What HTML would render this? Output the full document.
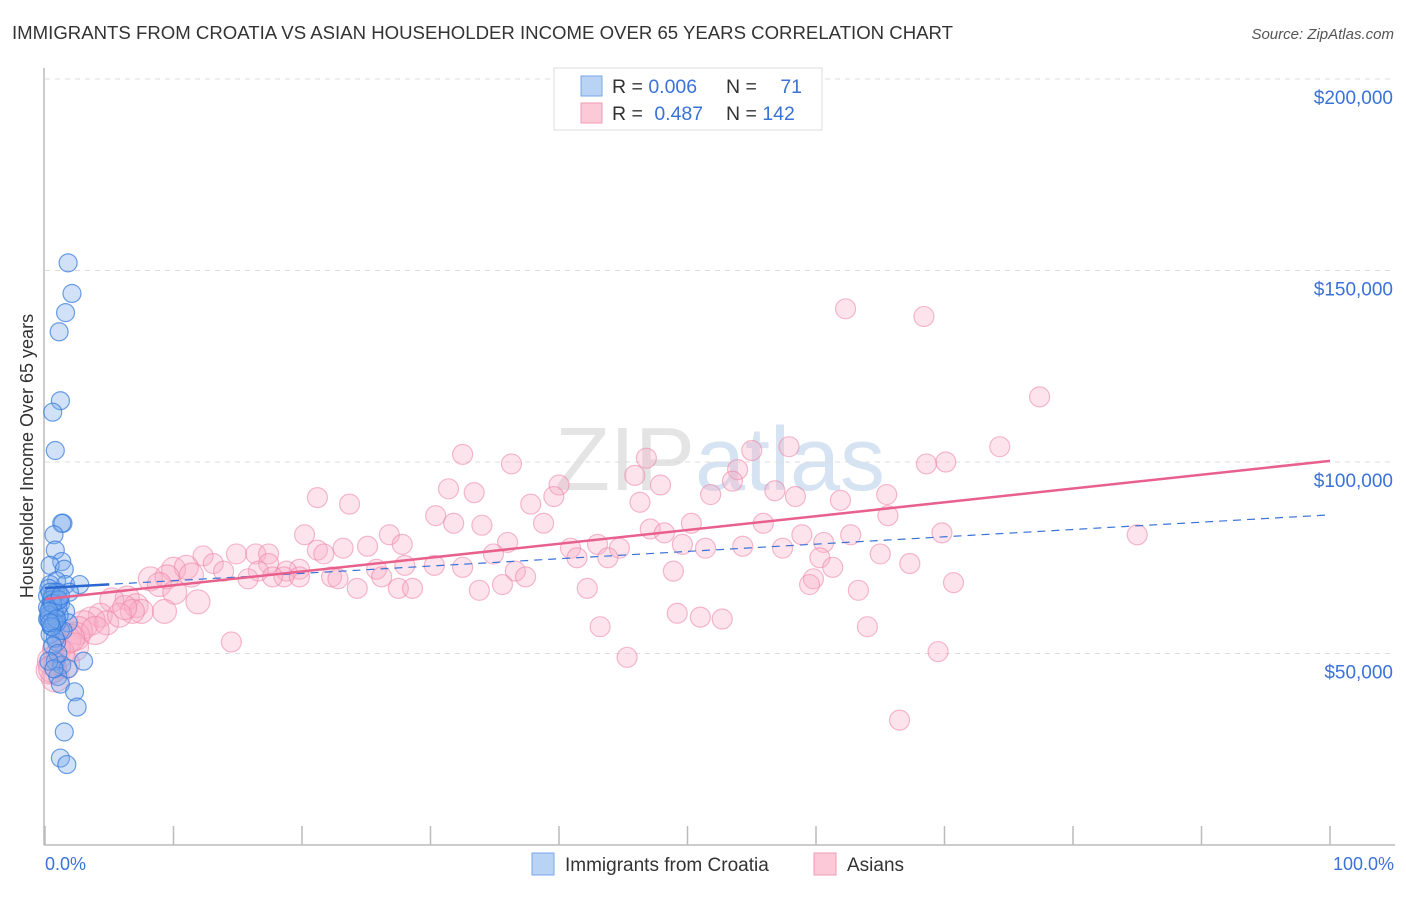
<!DOCTYPE html>
<html><head><meta charset="utf-8"><style>
body{margin:0;background:#fff;font-family:"Liberation Sans",sans-serif}
svg text{font-family:"Liberation Sans",sans-serif}
</style></head><body>
<svg id="c" width="1406" height="892" xmlns="http://www.w3.org/2000/svg">
<text x="12" y="39" font-size="18" fill="#333" textLength="941" lengthAdjust="spacingAndGlyphs">IMMIGRANTS FROM CROATIA VS ASIAN HOUSEHOLDER INCOME OVER 65 YEARS CORRELATION CHART</text>
<text x="1394" y="39" font-size="15" fill="#555" font-style="italic" text-anchor="end">Source: ZipAtlas.com</text>
<text x="720" y="490" font-size="90" fill="#e4e4e4" text-anchor="middle" font-family="Liberation Serif">ZIP<tspan fill="#d6e3f2" font-family="Liberation Sans">atlas</tspan></text>
<g id="grid"></g>
<line x1="44" y1="68" x2="44" y2="845" stroke="#bbb" stroke-width="1.5"/>
<line x1="44" y1="845" x2="1395" y2="845" stroke="#bbb" stroke-width="1.5"/>
<text transform="translate(33,456) rotate(-90)" font-size="18" fill="#333" text-anchor="middle">Householder Income Over 65 years</text>
<text x="45" y="870" font-size="18" fill="#3a72d8">0.0%</text>
<text x="1394" y="870" font-size="18" fill="#3a72d8" text-anchor="end">100.0%</text>
<g id="pts"></g>
<g id="lines"></g>
<g>
<rect x="554" y="68" width="268" height="62" fill="#fff" stroke="#ddd"/>
<rect x="581" y="76" width="21" height="20" fill="#b9d3f5" stroke="#7aa6e8"/>
<rect x="581" y="103" width="21" height="20" fill="#fcc9d8" stroke="#f09ab4"/>
<text x="612" y="93" font-size="19.5" fill="#333">R = <tspan fill="#3a72d8">0.006</tspan></text>
<text x="726" y="93" font-size="19.5" fill="#333">N = <tspan fill="#3a72d8" dx="18">71</tspan></text>
<text x="612" y="120" font-size="19.5" fill="#333">R = <tspan fill="#3a72d8" dx="6">0.487</tspan></text>
<text x="726" y="120" font-size="19.5" fill="#333">N = <tspan fill="#3a72d8">142</tspan></text>
</g>
<g>
<rect x="532" y="853" width="22" height="22" fill="#b9d3f5" stroke="#7aa6e8"/>
<text x="565" y="871" font-size="19" fill="#333">Immigrants from Croatia</text>
<rect x="814" y="853" width="22" height="22" fill="#fcc9d8" stroke="#f09ab4"/>
<text x="847" y="871" font-size="19" fill="#333">Asians</text>
</g>
</svg>
<script>
const yTicks=[50,100,150,200];
const yTickLabels=["$50,000","$100,000","$150,000","$200,000"];
const xTicks=[0,10,20,30,40,50,60,70,80,90,100];
const blueX=[1.8,2.1,1.6,1.1,1.2,0.6,0.8,1.4,1.3,0.7,0.8,1.3,0.4,1.5,0.9,1.6,2.7,0.4,1.0,1.9,0.2,1.2,0.4,1.6,0.8,0.2,1.8,0.5,1.2,0.4,0.9,3.0,0.8,1.3,1.8,1.0,1.2,2.3,2.5,1.5,1.2,1.7,0.3,0.6,1.0,0.5,0.7,1.1,0.3,0.9,0.6,1.4,0.2,0.8,0.5,1.0,0.3,0.7,0.4,1.1,0.6,0.3,0.9,0.5,1.2,0.4,0.8,0.6,1.0,0.3,0.7];
const blueY=[152,144,139,134,116,113,103,84,84,81,77,74,73,72,69,68,68,68,66,66,65,63,62,61,60,59,58,57,56,55,53,48,48,47,46,44,42,40,36,29.5,22.7,21,67,65,64,63,61,60,59,58,57,56,62,66,64,62,60,58,66,64,63,61,59,57,65,58,54,52,50,48,46];
const pinkX=[62.3,68.4,77.4,74.3,57.9,55,70.1,68.6,46.8,32.5,36.3,53.9,45.9,53.5,47.9,40,31.4,33.4,56.8,39.6,65.5,61.9,51.8,58.4,21.2,23.7,37.8,46.3,65.6,30.4,55.9,50.3,31.8,34,38.8,47.1,48.2,58.9,69.8,85,20.2,26.8,62.7,27.8,49.6,60.6,25.1,43,44.7,51.4,54.3,57.4,40.9,36,21.2,21.7,23.2,34.9,41.4,43.8,14.9,16.4,17.4,12.3,60.3,65,67.3,17.4,30.3,28,32.5,25.8,13.1,61.3,19.8,10,11,13.9,36.6,16.6,18.8,37.4,26.2,22.3,18.6,19.8,8.2,9.5,11.4,17.7,48.9,22.8,15.8,59.8,8.9,35.6,59.5,70.7,42.2,27.5,24.3,28.6,33.8,63.3,10.1,6.4,5.2,11.9,7.1,7.5,6.8,49.2,51,52.7,4.3,3.6,3,2.6,2.4,1.7,0.9,0.5,64,43.2,14.5,45.3,69.5,66.5,0.8,0.4,1.6,2.3,9.3,4.8,3.9,1.2,2,5.8,6.2,0.6];
const pinkY=[140,138,117,104,104,103,100,99.5,101,102,99.5,98,96.5,95,94,94,93,92,92.5,91,91.5,90,91.5,91,90.7,89,89,89.5,86,86,84,84,84,83.5,84,82.5,81.5,81,81.5,81,81,81,81,78.5,78.5,79,78,78.5,77.5,77.5,78,77.5,77.5,79,77,76,77.5,76,75,75,76,76,76,75.5,75,76,73.5,73.5,73,73,72.5,72,73.5,72.5,72,72,72.5,71.5,71.5,71.5,71.5,70,70,70,70,70,69.5,70,70.5,70,71.5,69.5,69.5,69.5,68,68,68,68.5,67,67,67,67,66.5,66.5,66,64.5,64,63.5,62.5,61,61,60.5,59.5,59,60,58.5,57.5,56,54.5,53.5,51,48,57,57,53,49,50.5,32.6,43.6,45.7,47.2,51.7,61,58,56,50,54,60,62,46];
const pinkTrend=[64.2,100.3];
const blueTrend=[67.1,86.2];
const NS="http://www.w3.org/2000/svg";
const X=p=>45+p*12.85, Y=k=>845-k*3.83;
function mk(t,a,parent){const e=document.createElementNS(NS,t);for(const k in a)e.setAttribute(k,a[k]);document.getElementById(parent).appendChild(e);return e;}
yTicks.forEach((v,i)=>{
 const l=mk('line',{x1:45,x2:1395,y1:Y(v),y2:Y(v),stroke:'#ddd','stroke-dasharray':'5,5'},'grid');
 
 
 const t=mk('text',{x:1393,y:Y(v)+25,'font-size':19,fill:'#3a72d8','text-anchor':'end'},'grid');
 t.textContent=yTickLabels[i];
 
 
});
xTicks.forEach(p=>{
 const l=mk('line',{x1:X(p),x2:X(p),y1:826,y2:845,stroke:'#bbb','stroke-width':1.5},'grid');
 
 
});
pinkX.forEach((p,i)=>{
 const r=p<4?14:(p<12?12:10);
 const c=mk('circle',{cx:X(p),cy:Y(pinkY[i]),r:r,fill:'rgba(248,170,196,0.32)',stroke:'rgba(236,130,168,0.55)','stroke-width':1.2},'pts');
 
 
});
blueX.forEach((p,i)=>{
 const c=mk('circle',{cx:X(p),cy:Y(blueY[i]),r:9,fill:'rgba(120,170,235,0.35)',stroke:'rgba(50,120,220,0.7)','stroke-width':1.2},'pts');
 
 
});
const bd=mk('line',{x1:X(0),y1:Y(blueTrend[0]),x2:X(100),y2:Y(blueTrend[1]),stroke:'#3a72d8','stroke-width':1.2,'stroke-dasharray':'8,6'},'lines');


const pt=mk('line',{x1:X(0),y1:Y(pinkTrend[0]),x2:X(100),y2:Y(pinkTrend[1]),stroke:'#e8608c','stroke-width':2.5},'lines');


const bs=mk('line',{x1:X(0),y1:Y(blueTrend[0]),x2:X(5),y2:Y(blueTrend[0]+(blueTrend[1]-blueTrend[0])*0.05),stroke:'#2a66d0','stroke-width':2.5},'lines');


</script>
</body></html>
